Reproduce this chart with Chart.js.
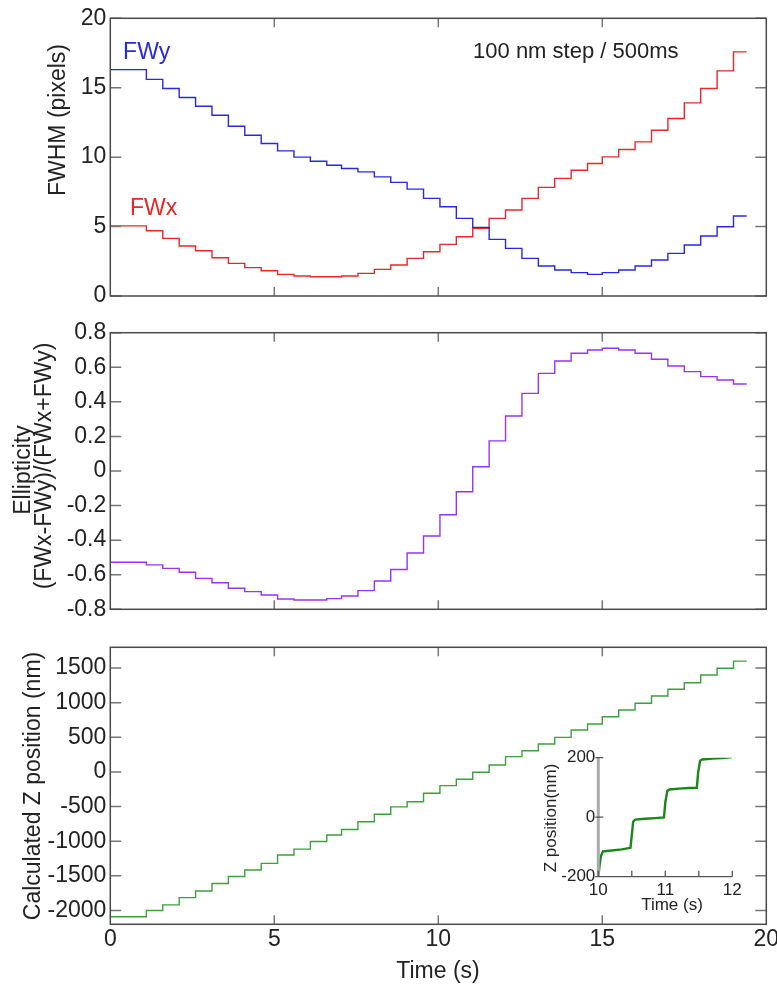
<!DOCTYPE html>
<html>
<head>
<meta charset="utf-8">
<script src="https://cdn.jsdelivr.net/npm/chart.js@4.4.1/dist/chart.umd.min.js"></script>
<style>
  body { margin: 0; background: #fff; }
  .panel { position: absolute; left: 0; width: 777px; }
  #inset { position: absolute; left: 520px; top: 740px; width: 250px; height: 180px; }
</style>
</head>
<body>
<div class="panel" style="top:0;height:310px"><canvas id="fwhm"></canvas></div>
<div class="panel" style="top:310px;height:310px"><canvas id="ellip"></canvas></div>
<div class="panel" style="top:620px;height:370px"><canvas id="zpos"></canvas></div>
<div id="inset"><canvas id="zinset"></canvas></div>
<script>
// start time of each 100 nm step (s); last entry is the end of the record
const stepTimes = [0, 1.1, 1.6, 2.1, 2.6, 3.1, 3.6, 4.1, 4.6, 5.1, 5.6, 6.1, 6.6, 7.05, 7.55, 8.05, 8.55, 9.05, 9.55,
  10.05, 10.55, 11.05, 11.55, 12.05, 12.55, 13.05, 13.55, 14.05, 14.55, 15.0, 15.5, 16.0, 16.5, 17.0, 17.5, 18.0, 18.5, 19.0, 19.4];

// FWHM per step (pixels)
const fwx = [5.05, 4.7, 4.15, 3.6, 3.26, 2.76, 2.35, 2.04, 1.82, 1.56, 1.44, 1.39, 1.39, 1.44, 1.63, 1.92, 2.23, 2.71, 3.19,
  3.72, 4.27, 4.87, 5.59, 6.19, 7.03, 7.82, 8.47, 9.06, 9.54, 10.02, 10.55, 11.1, 11.94, 12.78, 13.91, 14.94, 16.21, 17.58];
const fwy = [16.3, 15.6, 14.94, 14.3, 13.67, 13.02, 12.23, 11.58, 10.98, 10.45, 10.0, 9.71, 9.42, 9.18, 8.94, 8.58, 8.18, 7.7, 7.03,
  6.43, 5.59, 4.94, 4.08, 3.43, 2.71, 2.16, 1.87, 1.68, 1.56, 1.68, 1.87, 2.16, 2.59, 3.07, 3.67, 4.32, 4.99, 5.76];

const ellipticity = [-0.528, -0.543, -0.563, -0.586, -0.621, -0.646, -0.678, -0.698, -0.717, -0.74, -0.746, -0.746, -0.738,
  -0.723, -0.692, -0.636, -0.57, -0.474, -0.376, -0.253, -0.12, 0.025, 0.174, 0.318, 0.449, 0.565, 0.636, 0.681, 0.7, 0.71,
  0.7, 0.681, 0.646, 0.607, 0.575, 0.546, 0.526, 0.503];

// calculated z (nm)
const zPos = [-2090, -2000, -1920, -1815, -1720, -1610, -1510, -1415, -1320, -1200, -1115, -1005, -910, -830, -720, -610,
  -505, -430, -308, -198, -106, -5, 100, 221, 307, 404, 500, 606, 692, 798, 895, 991, 1097, 1194, 1289, 1400, 1497, 1600];

// zoomed trace 10-12 s
const insetTime = [10.0, 10.02, 10.04, 10.07, 10.2, 10.35, 10.48, 10.5, 10.52, 10.55, 10.7, 10.85, 10.98, 11.0, 11.03,
  11.06, 11.2, 11.35, 11.47, 11.49, 11.52, 11.55, 11.7, 11.85, 12.0];
const insetZ = [-200, -160, -130, -115, -112, -108, -103, -60, -15, -8, -5, -3, -1, 50, 88, 93, 96, 98, 99, 150, 190, 194,
  197, 199, 202];

const xTicks = [0, 5, 10, 15, 20];
const fwhmTicks = [0, 5, 10, 15, 20];
const ellipTicks = [-0.8, -0.6, -0.4, -0.2, 0, 0.2, 0.4, 0.6, 0.8];
const zTicks = [-2000, -1500, -1000, -500, 0, 500, 1000, 1500];
const insetXTicks = [10, 11, 12];
const insetXMarks = [10, 10.5, 11, 11.5, 12];
const insetYTicks = [-200, 0, 200];

const FONT = "'Liberation Sans', Arial, sans-serif";
Chart.defaults.font.family = FONT;
Chart.defaults.font.size = 23;
Chart.defaults.color = '#222';

function steps(levels) {
  return stepTimes.map((t, i) => ({x: t, y: levels[Math.min(i, levels.length - 1)]}));
}

// fixed axis box, and no extra room for end labels
function fixSize(prop, size) {
  return s => {
    s[prop] = size;
    s.paddingTop = s.paddingBottom = s.paddingLeft = s.paddingRight = 0;
  };
}

// box round the plot area with inward ticks on all four sides
function frame(xMarks, yMarks) {
  return {
    id: 'frame',
    afterDatasetsDraw(chart) {
      const {ctx, chartArea: a, scales} = chart;
      ctx.save();
      ctx.strokeStyle = '#777';
      ctx.lineWidth = 1.5;
      ctx.beginPath();
      xMarks.forEach(v => {
        const px = scales.x.getPixelForValue(v);
        ctx.moveTo(px, a.bottom); ctx.lineTo(px, a.bottom - 9);
        ctx.moveTo(px, a.top); ctx.lineTo(px, a.top + 9);
      });
      yMarks.forEach(v => {
        const py = scales.y.getPixelForValue(v);
        ctx.moveTo(a.left, py); ctx.lineTo(a.left + 11, py);
        ctx.moveTo(a.right, py); ctx.lineTo(a.right - 11, py);
      });
      ctx.stroke();
      ctx.strokeStyle = '#4a4a4a';
      ctx.strokeRect(a.left, a.top, a.width, a.height);
      ctx.restore();
    }
  };
}

// free text: data coords when n.data, canvas px otherwise
function notes(items) {
  return {
    id: 'notes',
    afterDraw(chart) {
      const ctx = chart.ctx;
      items.forEach(n => {
        let x = n.x, y = n.y;
        if (n.data) { x = chart.scales.x.getPixelForValue(n.x); y = chart.scales.y.getPixelForValue(n.y); }
        ctx.save();
        ctx.font = (n.size || 23) + 'px ' + FONT;
        ctx.fillStyle = n.color || '#222';
        ctx.textAlign = n.align || 'center';
        ctx.textBaseline = 'middle';
        ctx.translate(x, y);
        if (n.rot) ctx.rotate(-Math.PI / 2);
        ctx.fillText(n.text, 0, 0);
        ctx.restore();
      });
    }
  };
}

function line(data, color, width) {
  return {data: data, borderColor: color, borderWidth: width || 1.4, stepped: true, pointRadius: 0, fill: false};
}

function panel(id, datasets, o) {
  return new Chart(document.getElementById(id), {
    type: 'line',
    data: {datasets: datasets},
    options: {
      animation: false,
      responsive: true,
      maintainAspectRatio: false,
      layout: {padding: {top: o.top, right: 10.7, left: 0, bottom: 0}},
      plugins: {legend: {display: false}, tooltip: {enabled: false}},
      scales: {
        x: {
          type: 'linear', min: 0, max: 20,
          grid: {display: false, drawTicks: false}, border: {display: false},
          ticks: {display: !!o.xLabels, padding: 2, callback: v => String(v)},
          afterBuildTicks: s => { s.ticks = xTicks.map(v => ({value: v})); },
          afterFit: fixSize('height', o.xHeight)
        },
        y: {
          min: o.min, max: o.max,
          grid: {display: false, drawTicks: false}, border: {display: false},
          ticks: {padding: 4, callback: o.fmt || (v => String(v))},
          afterBuildTicks: s => { s.ticks = o.ticks.map(v => ({value: v})); },
          afterFit: fixSize('width', 110.3)
        }
      }
    },
    plugins: [frame([5, 10, 15], o.ticks), notes(o.notes)]
  });
}

panel('fwhm', [
  line(steps(fwy), 'rgb(40,40,225)'),
  line(steps(fwx), 'rgb(232,40,40)')
], {
  top: 18.3, xHeight: 14, min: 0, max: 20, ticks: fwhmTicks,
  notes: [
    {text: 'FWHM (pixels)', x: 59, y: 120, rot: true},
    {text: 'FWy', x: 0.39, y: 17.55, data: true, align: 'left', color: 'rgb(40,40,225)'},
    {text: 'FWx', x: 0.6, y: 6.26, data: true, align: 'left', color: 'rgb(232,40,40)'},
    {text: '100 nm step / 500ms', x: 11.06, y: 17.55, data: true, align: 'left', size: 22}
  ]
});

panel('ellip', [
  line(steps(ellipticity), 'rgb(150,50,250)')
], {
  top: 22.7, xHeight: 10.7, min: -0.8, max: 0.8, ticks: ellipTicks,
  fmt: v => (v === 0 ? '0' : v.toFixed(1)),
  notes: [
    {text: 'Ellipticity', x: 24, y: 160, rot: true},
    {text: '(FWx-FWy)/(FWx+FWy)', x: 45, y: 156, rot: true}
  ]
});

panel('zpos', [
  line(steps(zPos), 'rgb(60,160,60)')
], {
  top: 27.3, xHeight: 65.7, xLabels: true, min: -2200, max: 1800, ticks: zTicks,
  notes: [
    {text: 'Calculated Z position (nm)', x: 34, y: 166, rot: true},
    {text: 'Time (s)', x: 438, y: 352}
  ]
});

// inset axes: grey left axis, dark bottom axis, short ticks
const insetAxes = {
  id: 'insetAxes',
  afterDatasetsDraw(chart) {
    const {ctx, chartArea: a, scales} = chart;
    ctx.save();
    ctx.strokeStyle = '#aaa';
    ctx.lineWidth = 3;
    ctx.beginPath();
    ctx.moveTo(a.left, a.top); ctx.lineTo(a.left, a.bottom);
    ctx.stroke();
    ctx.strokeStyle = '#555';
    ctx.lineWidth = 1.3;
    ctx.beginPath();
    ctx.moveTo(a.left, a.bottom); ctx.lineTo(a.right, a.bottom);
    insetXMarks.forEach(v => {
      const px = scales.x.getPixelForValue(v);
      ctx.moveTo(px, a.bottom); ctx.lineTo(px, a.bottom - 6);
    });
    insetYTicks.forEach(v => {
      const py = scales.y.getPixelForValue(v);
      ctx.moveTo(a.left - 3, py); ctx.lineTo(a.left + 5, py);
    });
    ctx.stroke();
    ctx.restore();
  }
};

new Chart(document.getElementById('zinset'), {
  type: 'line',
  data: {datasets: [{
    data: insetTime.map((t, i) => ({x: t, y: insetZ[i]})),
    borderColor: 'rgb(25,135,25)', borderWidth: 2.4, pointRadius: 0, fill: false
  }]},
  options: {
    animation: false,
    responsive: true,
    maintainAspectRatio: false,
    layout: {padding: {top: 17.7, right: 37.7, left: 0, bottom: 0}},
    plugins: {legend: {display: false}, tooltip: {enabled: false}},
    scales: {
      x: {
        type: 'linear', min: 10, max: 12,
        grid: {display: false, drawTicks: false}, border: {display: false},
        ticks: {padding: 3, font: {size: 17}, callback: v => String(v)},
        afterBuildTicks: s => { s.ticks = insetXTicks.map(v => ({value: v})); },
        afterFit: fixSize('height', 43.3)
      },
      y: {
        min: -200, max: 200,
        grid: {display: false, drawTicks: false}, border: {display: false},
        ticks: {padding: 3, font: {size: 17}, callback: v => String(v)},
        afterBuildTicks: s => { s.ticks = insetYTicks.map(v => ({value: v})); },
        afterFit: fixSize('width', 78.3)
      }
    }
  },
  plugins: [insetAxes, notes([
    {text: 'Z position(nm)', x: 31, y: 78, rot: true, size: 17},
    {text: 'Time (s)', x: 152, y: 165, size: 17}
  ])]
});
</script>
</body>
</html>
